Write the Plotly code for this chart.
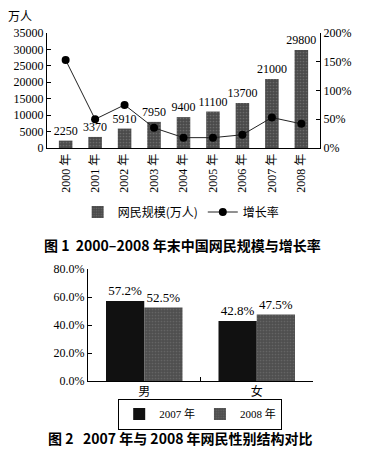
import plotly.graph_objects as go

years = ["2000 年", "2001 年", "2002 年", "2003 年", "2004 年", "2005 年", "2006 年", "2007 年", "2008 年"]
netizens = [2250, 3370, 5910, 7950, 9400, 11100, 13700, 21000, 29800]
growth = [1.53, 0.50, 0.75, 0.35, 0.18, 0.18, 0.23, 0.53, 0.42]

genders = ["男", "女"]
share_2007 = [0.572, 0.428]
share_2008 = [0.525, 0.475]

W, H = 366, 453
def py(p):
    return 1 - p / H

SERIF = "Liberation Serif, Noto Sans CJK SC, serif"
CJK = "Noto Sans CJK SC, sans-serif"

fig = go.Figure()

fig.add_trace(go.Bar(
    x=years, y=netizens, name="网民规模(万人)", xaxis="x", yaxis="y",
    width=0.46, text=[str(v) for v in netizens], textposition="outside",
    constraintext="none",
    textfont=dict(family=SERIF, size=12, color="black"), cliponaxis=False,
    marker=dict(color="#4a4a4a", line=dict(width=0),
                pattern=dict(shape=".", fgcolor="#8a8a8a", size=3, solidity=0.25)),
    legend="legend",
))
fig.add_trace(go.Scatter(
    x=years, y=growth, name="增长率", xaxis="x", yaxis="y2", mode="lines+markers",
    line=dict(color="#222", width=1), marker=dict(color="black", size=8),
    legend="legend",
))

fig.add_trace(go.Bar(
    x=genders, y=share_2007, name="2007 年", xaxis="x2", yaxis="y3",
    text=[f"{v*100:.1f}%" for v in share_2007], textposition="outside",
    constraintext="none",
    textfont=dict(family=SERIF, size=13, color="black"), cliponaxis=False,
    marker=dict(color="#111111", line=dict(width=0)), legend="legend2",
))
fig.add_trace(go.Bar(
    x=genders, y=share_2008, name="2008 年", xaxis="x2", yaxis="y3",
    text=[f"{v*100:.1f}%" for v in share_2008], textposition="outside",
    constraintext="none",
    textfont=dict(family=SERIF, size=13, color="black"), cliponaxis=False,
    marker=dict(color="#4f4f4f", line=dict(width=0),
                pattern=dict(shape=".", fgcolor="#7a7a7a", size=3, solidity=0.25)),
    legend="legend2",
))

ax_common = dict(showline=True, linecolor="black", linewidth=1, showgrid=False,
                 zeroline=False, automargin=False,
                 tickfont=dict(family=SERIF, size=12, color="black"))

fig.update_layout(
    width=W, height=H, margin=dict(l=0, r=0, t=0, b=0, autoexpand=False),
    paper_bgcolor="white", plot_bgcolor="white",
    barmode="group", bargap=0.32, bargroupgap=0,
    xaxis=dict(domain=[47 / W, 320 / W], anchor="y", tickangle=-90, ticks="",
               **ax_common),
    yaxis=dict(domain=[py(148), py(33)], anchor="x", range=[0, 35000], dtick=5000,
               tickformat="d", ticks="inside", ticklen=4, tickcolor="black",
               **ax_common),
    yaxis2=dict(overlaying="y", side="right", anchor="x", range=[0, 2.0], dtick=0.5,
                tickformat=".0%", ticks="inside", ticklen=4, tickcolor="black",
                **ax_common),
    xaxis2=dict(domain=[88 / W, 313 / W], anchor="y3", ticks="inside", ticklen=4,
                tickson="boundaries", tickcolor="black", **ax_common),
    yaxis3=dict(domain=[py(381), py(269)], anchor="x2", range=[0, 0.8], dtick=0.2,
                tickformat=".1%", ticks="inside", ticklen=4, tickcolor="black",
                **ax_common),
    legend=dict(x=0.495, y=py(212), xanchor="center", yanchor="middle",
                orientation="h", font=dict(family=CJK, size=12, color="black"),
                bgcolor="rgba(0,0,0,0)", tracegroupgap=0),
    legend2=dict(x=0.547, y=py(414), xanchor="center", yanchor="middle",
                 orientation="h", font=dict(family=SERIF, size=11, color="black"),
                 bordercolor="black", borderwidth=1, bgcolor="white"),
    showlegend=True,
)

fig.add_annotation(text="万人", x=20 / W, y=py(16), xref="paper", yref="paper",
                   xanchor="center", yanchor="middle",
                   showarrow=False, font=dict(family=CJK, size=12, color="black"))
fig.add_annotation(text="<b>图 1  2000–2008 年末中国网民规模与增长率</b>",
                   x=182 / W, y=py(245), xref="paper", yref="paper", showarrow=False,
                   xanchor="center", yanchor="middle",
                   font=dict(family=CJK, size=14, color="black"))
fig.add_annotation(text="<b>图 2   2007 年与 2008 年网民性别结构对比</b>",
                   x=180 / W, y=py(438), xref="paper", yref="paper", showarrow=False,
                   xanchor="center", yanchor="middle",
                   font=dict(family=CJK, size=14, color="black"))

fig.write_html("out.html", config={"displayModeBar": False},
               post_script="document.body.style.margin='0';")
